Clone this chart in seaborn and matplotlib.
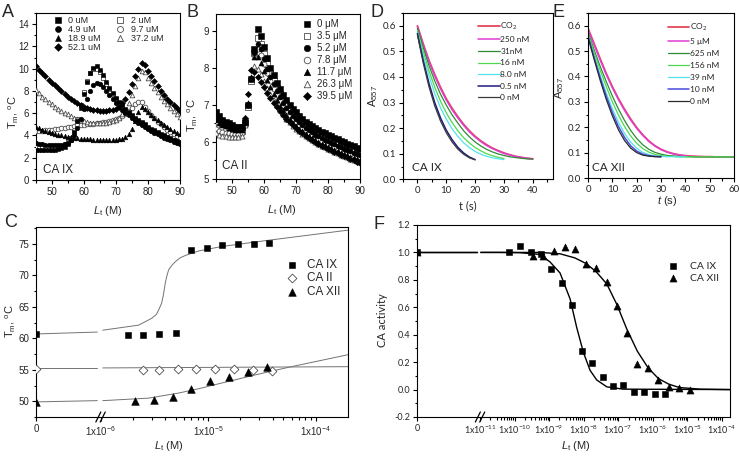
import matplotlib

matplotlib.use('Agg')
import matplotlib.pyplot as plt
from matplotlib.ticker import MultipleLocator, FixedLocator, FixedFormatter
import numpy as np
import seaborn as sns

# ---------------- panel A: CA IX melting curves (values per degree, 45..90) ----------------
temp = np.arange(45, 91)
a_0uM = [2.70, 2.70, 2.65, 2.65, 2.65, 2.65, 2.70, 2.75, 2.85, 3.00,
         3.20, 3.60, 4.30, 5.30, 6.50, 7.70, 8.80, 9.60, 10.10, 10.20,
         9.90, 9.40, 8.80, 8.30, 7.80, 7.40, 7.00, 6.70, 6.40, 6.10,
         5.85, 5.60, 5.40, 5.20, 5.00, 4.80, 4.60, 4.45, 4.30, 4.15,
         4.00, 3.85, 3.75, 3.60, 3.50, 3.40]
a_2uM = [3.00, 2.98, 2.95, 2.92, 2.90, 2.90, 2.92, 2.95, 3.05, 3.20,
         3.40, 3.80, 4.50, 5.50, 6.70, 7.90, 8.90, 9.60, 9.95, 10.00,
         9.70, 9.20, 8.65, 8.15, 7.70, 7.30, 6.90, 6.60, 6.30, 6.00,
         5.75, 5.50, 5.30, 5.10, 4.90, 4.70, 4.52, 4.37, 4.22, 4.08,
         3.95, 3.82, 3.70, 3.58, 3.47, 3.37]
a_4_9uM = [3.30, 3.25, 3.20, 3.15, 3.10, 3.10, 3.10, 3.10, 3.15, 3.20,
           3.35, 3.60, 4.00, 4.70, 5.50, 6.40, 7.30, 8.00, 8.50, 8.70,
           8.65, 8.35, 8.00, 7.60, 7.25, 6.90, 6.60, 6.30, 6.05, 5.80,
           5.55, 5.35, 5.15, 4.95, 4.75, 4.55, 4.40, 4.25, 4.10, 3.95,
           3.80, 3.65, 3.55, 3.40, 3.30, 3.20]
a_9_7uM = [4.40, 4.40, 4.40, 4.45, 4.50, 4.50, 4.55, 4.60, 4.65, 4.70,
           4.75, 4.80, 4.85, 4.90, 4.90, 4.95, 5.00, 5.00, 5.05, 5.10,
           5.15, 5.20, 5.25, 5.30, 5.40, 5.50, 5.60, 5.75, 5.95, 6.20,
           6.50, 6.80, 7.00, 7.00, 6.60, 6.20, 5.85, 5.55, 5.25, 5.00,
           4.75, 4.50, 4.30, 4.10, 3.95, 3.80]
a_18_9uM = [4.80, 4.65, 4.50, 4.40, 4.30, 4.20, 4.10, 4.05, 4.00, 3.95,
            3.90, 3.85, 3.80, 3.75, 3.70, 3.70, 3.65, 3.65, 3.60, 3.60,
            3.60, 3.60, 3.60, 3.60, 3.60, 3.60, 3.65, 3.70, 3.85, 4.10,
            4.60, 5.30, 6.10, 6.60, 6.40, 6.10, 5.80, 5.60, 5.35, 5.15,
            4.95, 4.75, 4.60, 4.40, 4.25, 4.10]
a_37_2uM = [8.10, 7.80, 7.50, 7.25, 7.00, 6.80, 6.60, 6.40, 6.20, 6.05,
            5.90, 5.75, 5.60, 5.50, 5.40, 5.30, 5.20, 5.15, 5.10, 5.10,
            5.10, 5.10, 5.15, 5.20, 5.30, 5.40, 5.60, 5.90, 6.30, 6.90,
            7.60, 8.40, 9.20, 9.80, 9.70, 9.20, 8.75, 8.30, 7.90, 7.50,
            7.10, 6.80, 6.50, 6.20, 5.95, 5.70]
a_52_1uM = [10.20, 9.90, 9.60, 9.30, 9.00, 8.75, 8.50, 8.25, 8.00, 7.75,
            7.50, 7.30, 7.10, 6.90, 6.70, 6.55, 6.45, 6.35, 6.30, 6.25,
            6.20, 6.20, 6.20, 6.25, 6.30, 6.40, 6.60, 6.90, 7.30, 7.90,
            8.60, 9.30, 10.00, 10.50, 10.30, 9.80, 9.30, 8.85, 8.40, 8.00,
            7.60, 7.30, 7.00, 6.70, 6.45, 6.20]

# ---------------- panel B: CA II melting curves ----------------
b_0 = [6.80, 6.70, 6.60, 6.55, 6.50, 6.45, 6.40, 6.40, 6.40, 6.55,
       7.00, 7.70, 8.50, 9.05, 8.85, 8.55, 8.25, 8.00, 7.80, 7.60,
       7.42, 7.27, 7.13, 7.00, 6.90, 6.80, 6.71, 6.62, 6.55, 6.49,
       6.43, 6.38, 6.33, 6.28, 6.23, 6.19, 6.15, 6.11, 6.07, 6.03,
       5.99, 5.95, 5.91, 5.88, 5.84, 5.80]
b_3_5 = [6.45, 6.40, 6.35, 6.32, 6.30, 6.30, 6.30, 6.30, 6.30, 6.50,
         6.95, 7.65, 8.40, 8.80, 8.65, 8.38, 8.10, 7.86, 7.65, 7.46,
         7.29, 7.14, 7.01, 6.89, 6.79, 6.70, 6.61, 6.53, 6.46, 6.40,
         6.34, 6.29, 6.24, 6.19, 6.15, 6.11, 6.07, 6.03, 5.99, 5.95,
         5.91, 5.87, 5.83, 5.80, 5.76, 5.73]
b_5_2 = [6.75, 6.65, 6.57, 6.50, 6.45, 6.40, 6.38, 6.36, 6.36, 6.55,
         7.00, 7.70, 8.40, 8.65, 8.50, 8.24, 7.98, 7.75, 7.55, 7.37,
         7.20, 7.05, 6.92, 6.80, 6.70, 6.61, 6.53, 6.45, 6.38, 6.32,
         6.26, 6.20, 6.15, 6.10, 6.06, 6.02, 5.98, 5.94, 5.90, 5.86,
         5.82, 5.78, 5.75, 5.71, 5.68, 5.65]
b_7_8 = [6.35, 6.30, 6.27, 6.25, 6.23, 6.22, 6.22, 6.22, 6.25, 6.50,
         7.00, 7.70, 8.35, 8.50, 8.35, 8.10, 7.85, 7.63, 7.44, 7.27,
         7.11, 6.97, 6.84, 6.73, 6.63, 6.54, 6.46, 6.38, 6.31, 6.25,
         6.19, 6.13, 6.08, 6.03, 5.99, 5.95, 5.91, 5.87, 5.83, 5.79,
         5.75, 5.71, 5.68, 5.64, 5.61, 5.58]
b_11_7 = [6.60, 6.52, 6.46, 6.42, 6.38, 6.35, 6.33, 6.32, 6.33, 6.55,
          7.05, 7.75, 8.30, 8.30, 8.12, 7.90, 7.67, 7.47, 7.29, 7.13,
          6.98, 6.85, 6.73, 6.62, 6.52, 6.44, 6.36, 6.29, 6.22, 6.16,
          6.10, 6.05, 6.00, 5.95, 5.91, 5.87, 5.83, 5.79, 5.75, 5.71,
          5.67, 5.64, 5.60, 5.57, 5.53, 5.50]
b_26_3 = [6.25, 6.20, 6.17, 6.15, 6.13, 6.12, 6.12, 6.12, 6.15, 6.45,
          7.05, 7.75, 8.05, 7.98, 7.82, 7.64, 7.45, 7.28, 7.13, 6.99,
          6.86, 6.74, 6.63, 6.53, 6.44, 6.36, 6.29, 6.22, 6.16, 6.10,
          6.05, 6.00, 5.95, 5.90, 5.86, 5.82, 5.78, 5.74, 5.70, 5.66,
          5.62, 5.59, 5.55, 5.52, 5.48, 5.45]
b_39_5 = [6.70, 6.60, 6.50, 6.45, 6.40, 6.38, 6.36, 6.35, 6.38, 6.65,
          7.30, 7.95, 7.88, 7.76, 7.62, 7.48, 7.33, 7.19, 7.06, 6.94,
          6.83, 6.72, 6.62, 6.53, 6.45, 6.37, 6.30, 6.23, 6.17, 6.11,
          6.05, 6.00, 5.95, 5.90, 5.86, 5.82, 5.78, 5.74, 5.70, 5.66,
          5.62, 5.58, 5.54, 5.50, 5.46, 5.42]

# ---------------- panel D: CA IX stopped-flow traces ----------------
t_d40 = [0, 2, 4, 6, 8, 10, 12, 14, 16, 18, 20, 22, 24, 26, 28, 30, 32, 34, 36, 38, 40]
t_d30 = [0, 2, 4, 6, 8, 10, 12, 14, 16, 18, 20, 22, 24, 26, 28, 30]
t_d20 = [0, 2, 4, 6, 8, 10, 12, 14, 16, 18, 20]
d_co2 = [0.600, 0.530, 0.465, 0.410, 0.360, 0.315, 0.278, 0.245, 0.215, 0.190, 0.168,
         0.150, 0.135, 0.122, 0.112, 0.103, 0.096, 0.090, 0.086, 0.082, 0.080]
d_250 = [0.595, 0.525, 0.460, 0.404, 0.354, 0.310, 0.272, 0.240, 0.211, 0.186, 0.165,
         0.147, 0.132, 0.120, 0.110, 0.101, 0.095, 0.089, 0.085, 0.082, 0.080]
d_31 = [0.590, 0.515, 0.445, 0.385, 0.333, 0.290, 0.252, 0.220, 0.190, 0.166, 0.146,
        0.130, 0.117, 0.107, 0.099, 0.093, 0.088, 0.085, 0.082, 0.080, 0.079]
d_16 = [0.580, 0.500, 0.425, 0.360, 0.305, 0.260, 0.222, 0.190, 0.163, 0.142, 0.124,
        0.111, 0.100, 0.092, 0.086, 0.081]
d_8 = [0.575, 0.485, 0.405, 0.335, 0.280, 0.235, 0.198, 0.168, 0.143, 0.124, 0.109,
       0.098, 0.090, 0.084, 0.080, 0.077]
d_05 = [0.570, 0.465, 0.375, 0.300, 0.240, 0.192, 0.155, 0.125, 0.103, 0.087, 0.077]
d_0 = [0.565, 0.455, 0.362, 0.287, 0.228, 0.182, 0.146, 0.118, 0.098, 0.084, 0.076]

# ---------------- panel E: CA XII stopped-flow traces ----------------
t_e60 = [0, 2.5, 5, 7.5, 10, 12.5, 15, 17.5, 20, 22.5, 25, 27.5, 30, 32.5, 35, 37.5,
         40, 42.5, 45, 47.5, 50, 52.5, 55, 57.5, 60]
t_e40 = [0, 2.5, 5, 7.5, 10, 12.5, 15, 17.5, 20, 22.5, 25, 27.5, 30, 32.5, 35, 37.5, 40]
t_e30 = [0, 2.5, 5, 7.5, 10, 12.5, 15, 17.5, 20, 22.5, 25, 27.5, 30]
e_co2 = [0.590, 0.530, 0.470, 0.412, 0.360, 0.313, 0.271, 0.233, 0.199, 0.170, 0.146, 0.127,
         0.113, 0.103, 0.096, 0.091, 0.088, 0.086, 0.085, 0.084, 0.084, 0.083, 0.083, 0.083, 0.083]
e_5um = [0.585, 0.525, 0.465, 0.408, 0.356, 0.309, 0.267, 0.229, 0.196, 0.168, 0.144, 0.126,
         0.112, 0.102, 0.095, 0.090, 0.087, 0.085, 0.084, 0.084, 0.083, 0.083, 0.083, 0.083, 0.083]
e_625 = [0.575, 0.505, 0.440, 0.380, 0.323, 0.272, 0.227, 0.188, 0.156, 0.131, 0.113, 0.101,
         0.094, 0.089, 0.087, 0.085, 0.084, 0.084, 0.083, 0.083, 0.083, 0.083, 0.083, 0.083, 0.083]
e_156 = [0.570, 0.495, 0.425, 0.360, 0.300, 0.248, 0.203, 0.166, 0.137, 0.116, 0.102, 0.093,
         0.088, 0.086, 0.085, 0.084, 0.084, 0.083, 0.083, 0.083, 0.083, 0.083, 0.083, 0.083, 0.083]
e_39 = [0.560, 0.480, 0.405, 0.335, 0.273, 0.220, 0.176, 0.142, 0.117, 0.101, 0.092, 0.087,
        0.085, 0.084, 0.084, 0.083, 0.083]
e_10 = [0.560, 0.475, 0.395, 0.322, 0.258, 0.203, 0.160, 0.127, 0.106, 0.094, 0.088, 0.085, 0.084]
e_0 = [0.555, 0.468, 0.385, 0.310, 0.245, 0.190, 0.148, 0.118, 0.100, 0.090, 0.086, 0.084, 0.083]

# ---------------- panel C: Tm vs ligand ----------------
c_ix_x = [0, 1.8e-6, 2.5e-6, 3.5e-6, 5.0e-6, 6.9e-6, 9.7e-6, 1.35e-5, 1.9e-5, 2.65e-5, 3.7e-5]
c_ix_y = [60.7, 60.5, 60.6, 60.7, 60.8, 74.1, 74.4, 74.8, 75.0, 75.0, 75.1]
c_ii_x = [0, 2.5e-6, 3.5e-6, 5.2e-6, 7.7e-6, 1.17e-5, 1.76e-5, 2.62e-5, 3.94e-5]
c_ii_y = [55.2, 54.9, 54.9, 55.1, 55.2, 55.2, 55.2, 55.0, 54.8]
c_xii_x = [0, 2.07e-6, 3.12e-6, 4.69e-6, 7.0e-6, 1.05e-5, 1.58e-5, 2.35e-5, 3.54e-5]
c_xii_y = [49.9, 50.0, 50.2, 50.6, 52.0, 53.3, 53.9, 54.6, 55.4]
# fitted curves (nan = axis break)
fit_c_ix_x = [0, 9.5e-7, np.nan, 1.05e-6, 2.26e-6, 3.0e-6, 3.3e-6, 3.47e-6, 3.7e-6, 3.85e-6,
              4.0e-6, 4.15e-6, 4.3e-6, 4.6e-6, 4.97e-6, 5.5e-6, 6.2e-6, 8.2e-6, 1.34e-5,
              3.67e-5, 2e-4]
fit_c_ix_y = [60.7, 61.0, np.nan, 61.3, 62.1, 63.2, 63.8, 64.5, 65.6, 67.0,
              68.8, 70.0, 70.9, 71.6, 72.2, 72.8, 73.2, 73.9, 74.6, 75.6, 77.2]
fit_c_ii_x = [0, 9.5e-7, np.nan, 1.05e-6, 2e-4]
fit_c_ii_y = [55.3, 55.3, np.nan, 55.3, 55.5]
fit_c_xii_x = [0, 9.5e-7, np.nan, 1.05e-6, 2.8e-6, 5.3e-6, 8.2e-6, 1.34e-5, 2.76e-5, 5.6e-5, 2e-4]
fit_c_xii_y = [49.9, 50.1, np.nan, 50.1, 50.5, 51.3, 52.0, 52.9, 54.2, 55.4, 57.4]

# ---------------- panel F: CA activity vs ligand ----------------
f_ix_x = [0, 7.1e-11, 1.44e-10, 2.95e-10, 5.9e-10, 1.12e-9, 2.33e-9, 4.55e-9, 9.2e-9, 1.8e-8,
          3.6e-8, 7.3e-8, 1.43e-7, 2.9e-7, 5.8e-7, 1.18e-6, 2.3e-6]
f_ix_y = [1.0, 1.0, 1.05, 1.0, 0.985, 0.878, 0.78, 0.615, 0.282, 0.194,
          0.092, 0.026, 0.031, -0.015, -0.018, -0.034, -0.032]
f_xii_x = [0, 3.5e-10, 6.8e-10, 1.4e-9, 2.8e-9, 5.7e-9, 1.16e-8, 2.3e-8, 4.7e-8, 9.2e-8,
           1.79e-7, 3.6e-7, 7.3e-7, 1.47e-6, 2.9e-6, 5.9e-6, 1.17e-5]
f_xii_y = [1.0, 0.975, 0.975, 1.007, 1.04, 1.024, 0.912, 0.89, 0.786, 0.61,
           0.416, 0.185, 0.155, 0.068, 0.019, 0.015, 0.0]
fit_f_ix_x = [0, 9.5e-12, np.nan, 1.05e-11, 3.8e-11, 1.44e-10, 5.5e-10, 1.07e-9, 2.08e-9, 4.07e-9,
              6.35e-9, 9.9e-9, 1.54e-8, 2.4e-8, 4.7e-8, 1.4e-7, 1.7e-4]
fit_f_ix_y = [1.0, 1.0, np.nan, 1.0, 1.0, 0.998, 0.985, 0.93, 0.85, 0.66,
              0.45, 0.27, 0.14, 0.07, 0.02, 0.003, 0.0]
fit_f_xii_x = [0, 9.5e-12, np.nan, 1.05e-11, 5.5e-10, 2.08e-9, 5.6e-9, 1.16e-8, 2.3e-8, 4.7e-8,
               9.2e-8, 1.79e-7, 3.6e-7, 7.3e-7, 1.47e-6, 2.9e-6, 5.9e-6, 2.4e-5, 1.7e-4]
fit_f_xii_y = [1.0, 1.0, np.nan, 1.0, 1.0, 0.99, 0.96, 0.92, 0.86, 0.77,
               0.62, 0.44, 0.28, 0.16, 0.08, 0.04, 0.015, 0.003, 0.0]

# ---------------------------------------------------------------------------
sns.set_style('ticks')
plt.rcParams['font.family'] = ['Liberation Sans', 'DejaVu Sans']
plt.rcParams['mathtext.fontset'] = 'custom'
plt.rcParams['mathtext.rm'] = 'Liberation Sans'
plt.rcParams['mathtext.it'] = 'Liberation Sans:italic'
plt.rcParams['mathtext.default'] = 'regular'

W, H = 740, 457
fig = plt.figure(figsize=(W / 100, H / 100), dpi=100)


def add_ax(l, t, r, b):
    return fig.add_axes([l / W, 1 - b / H, (r - l) / W, (b - t) / H])


def style(ax, fam=None, size=7):
    for s in ax.spines.values():
        s.set_color('k')
        s.set_linewidth(0.8)
    ax.tick_params(which='both', direction='out', color='k', width=0.8,
                   top=False, right=False, labelsize=size, pad=2)
    ax.tick_params(which='major', length=3)
    ax.tick_params(which='minor', length=1.8)
    if fam:
        for lab in ax.get_xticklabels() + ax.get_yticklabels():
            lab.set_fontfamily(fam)


def dots(ax, x, y, marker, filled, s, label=None):
    if filled:
        sns.scatterplot(x=x, y=y, ax=ax, marker=marker, color='k', edgecolor='k',
                        s=s, linewidth=0.4, label=label, zorder=3)
    else:
        sns.scatterplot(x=x, y=y, ax=ax, marker=marker, color='white', edgecolor='0.3',
                        s=s, linewidth=0.6, label=label, zorder=3)


def fit_line(ax, x, y, color, lw):
    x = np.asarray(x, float)
    y = np.asarray(y, float)
    cuts = np.flatnonzero(np.isnan(x))
    for part in np.split(np.arange(len(x)), cuts):
        part = part[~np.isnan(x[part])]
        if len(part) > 1:
            sns.lineplot(x=x[part], y=y[part], ax=ax, color=color, lw=lw,
                         estimator=None, sort=False, zorder=2)


def broken_log(x0, left):
    def fwd(x):
        x = np.asarray(x, dtype=float)
        safe = np.where(x > x0, x, x0)
        return np.where(x <= x0, left * x / x0, left + np.log10(safe / x0))

    def inv(p):
        p = np.asarray(p, dtype=float)
        safe = np.where(p > left, p, left)
        return np.where(p <= left, x0 * p / left, x0 * 10 ** (safe - left))
    return fwd, inv


def slashes(ax, frac, w, h):
    for off in (-2.2, 2.2):
        cx = frac + off / w
        ax.plot([cx - 2.5 / w, cx + 2.5 / w], [-5 / h, 5 / h], transform=ax.transAxes,
                color='k', lw=0.9, clip_on=False)


def panel_letter(x, y, s):
    fig.text(x / W, 1 - y / H, s, fontsize=13, va='top', ha='left')


lt_label = r'$\mathit{L}_t$ (M)'
tm_label = r'T$_m$, $^o$C'

# ---------------- A ----------------
axA = add_ax(35.7, 13, 180, 180)
a_series = [(a_2uM, 's', False, '2 uM'), (a_9_7uM, 'o', False, '9.7 uM'),
            (a_37_2uM, '^', False, '37.2 uM'), (a_0uM, 's', True, '0 uM'),
            (a_4_9uM, 'o', True, '4.9 uM'), (a_18_9uM, '^', True, '18.9 uM'),
            (a_52_1uM, 'D', True, '52.1 uM')]
for vals, mk, filled, lab in a_series:
    dots(axA, temp, vals, mk, filled, 11 if mk != 'D' else 9, lab)
axA.set_xlim(45, 90)
axA.set_ylim(0, 15)
axA.xaxis.set_major_locator(MultipleLocator(10))
axA.xaxis.set_minor_locator(MultipleLocator(5))
axA.yaxis.set_major_locator(MultipleLocator(2))
axA.yaxis.set_minor_locator(MultipleLocator(1))
style(axA)
h, l = axA.get_legend_handles_labels()
order = [l.index(n) for n in ['0 uM', '4.9 uM', '18.9 uM', '52.1 uM', '2 uM', '9.7 uM', '37.2 uM']]
axA.legend([h[i] for i in order], [l[i] for i in order], ncol=2, loc='upper left',
           bbox_to_anchor=(0.12, 0.985), frameon=False, fontsize=6.5, labelspacing=0.0,
           handlelength=1.0, handletextpad=0.7, columnspacing=1.6, borderaxespad=0,
           borderpad=0, markerscale=1.3)
axA.text(0.05, 0.06, 'CA IX', transform=axA.transAxes, fontsize=8.5, va='center')
axA.set_xlabel(lt_label, fontsize=8)
axA.set_ylabel(tm_label, fontsize=8)
axA.xaxis.set_label_coords(0.5, -0.186)
axA.xaxis.label.set_va('center')
axA.yaxis.set_label_coords(-0.157, 0.41)
axA.yaxis.label.set_va('center')

# ---------------- B ----------------
axB = add_ax(216, 14, 360, 179)
b_series = [(b_3_5, 's', False, '3.5 \u03bcM'), (b_7_8, 'o', False, '7.8 \u03bcM'),
            (b_26_3, '^', False, '26.3 \u03bcM'), (b_0, 's', True, '0 \u03bcM'),
            (b_5_2, 'o', True, '5.2 \u03bcM'), (b_11_7, '^', True, '11.7 \u03bcM'),
            (b_39_5, 'D', True, '39.5 \u03bcM')]
for vals, mk, filled, lab in b_series:
    dots(axB, temp, vals, mk, filled, 13 if mk != 'D' else 10, lab)
axB.set_xlim(45, 90)
axB.set_ylim(5, 9.45)
axB.xaxis.set_major_locator(MultipleLocator(10))
axB.xaxis.set_minor_locator(MultipleLocator(5))
axB.yaxis.set_major_locator(MultipleLocator(1))
axB.yaxis.set_minor_locator(MultipleLocator(0.5))
style(axB)
h, l = axB.get_legend_handles_labels()
names = ['0 \u03bcM', '3.5 \u03bcM', '5.2 \u03bcM', '7.8 \u03bcM', '11.7 \u03bcM',
         '26.3 \u03bcM', '39.5 \u03bcM']
order = [l.index(n) for n in names]
axB.legend([h[i] for i in order], [l[i] for i in order], loc='upper left',
           bbox_to_anchor=(0.6, 0.97), frameon=False, fontsize=7, labelspacing=0.2,
           handlelength=1.0, handletextpad=0.5, borderaxespad=0, borderpad=0,
           markerscale=1.3)
axB.text(0.04, 0.08, 'CA II', transform=axB.transAxes, fontsize=8.5, va='center')
axB.set_xlabel(lt_label, fontsize=8)
axB.set_ylabel(tm_label, fontsize=8)
axB.xaxis.set_label_coords(0.46, -0.188)
axB.xaxis.label.set_va('center')
axB.yaxis.set_label_coords(-0.167, 0.39)
axB.yaxis.label.set_va('center')

# ---------------- D ----------------
axD = add_ax(403, 13, 553, 179.3)
d_series = [(t_d40, d_co2, '#e2475a', 1.3, 'CO$_2$'), (t_d40, d_250, '#e03cd2', 1.1, '250 nM'),
            (t_d40, d_31, '#2f8a36', 0.9, '31nM'), (t_d30, d_16, '#4fd84f', 0.9, '16 nM'),
            (t_d30, d_8, '#52e2ea', 0.9, '8.0 nM'), (t_d20, d_05, '#1c1c80', 1.1, '0.5 nM'),
            (t_d20, d_0, '#3a3a3a', 0.9, '0 nM')]
for tx, vals, col, lw, lab in d_series:
    sns.lineplot(x=tx, y=vals, ax=axD, color=col, lw=lw, label=lab, estimator=None, sort=False)
axD.set_xlim(-5, 47)
axD.set_ylim(0, 0.65)
axD.xaxis.set_major_locator(MultipleLocator(10))
axD.xaxis.set_minor_locator(MultipleLocator(5))
axD.yaxis.set_major_locator(MultipleLocator(0.1))
axD.yaxis.set_minor_locator(MultipleLocator(0.05))
axD.yaxis.set_major_formatter(matplotlib.ticker.FormatStrFormatter('%.1f'))
style(axD, 'Lato')
axD.legend(loc='upper left', bbox_to_anchor=(0.5, 0.955), frameon=False,
           prop={'family': 'Lato', 'size': 6}, labelspacing=0.55, handlelength=2.6,
           handletextpad=0.1, borderaxespad=0, borderpad=0)
axD.text(0.058, 0.07, 'CA IX', transform=axD.transAxes, fontsize=8.5, va='center',
         fontfamily='Lato')
axD.set_xlabel('t (s)', fontsize=8, fontfamily='Lato')
axD.set_ylabel('A$_{557}$', fontsize=8)
axD.xaxis.set_label_coords(0.43, -0.16)
axD.xaxis.label.set_va('center')
axD.yaxis.set_label_coords(-0.2, 0.5)
axD.yaxis.label.set_va('center')

# ---------------- E ----------------
axE = add_ax(588, 13, 734, 178)
e_series = [(t_e60, e_co2, '#e2475a', 1.3, 'CO$_2$'), (t_e60, e_5um, '#e03cd2', 1.1, '5 \u03bcM'),
            (t_e60, e_625, '#2f8a36', 0.9, '625 nM'), (t_e60, e_156, '#4fd84f', 0.9, '156 nM'),
            (t_e40, e_39, '#52e2ea', 0.9, '39 nM'), (t_e30, e_10, '#4a4ade', 1.1, '10 nM'),
            (t_e30, e_0, '#2a2a2a', 0.9, '0 nM')]
for tx, vals, col, lw, lab in e_series:
    sns.lineplot(x=tx, y=vals, ax=axE, color=col, lw=lw, label=lab, estimator=None, sort=False)
axE.set_xlim(0, 60)
axE.set_ylim(0, 0.65)
axE.xaxis.set_major_locator(MultipleLocator(10))
axE.xaxis.set_minor_locator(MultipleLocator(5))
axE.yaxis.set_major_locator(MultipleLocator(0.1))
axE.yaxis.set_minor_locator(MultipleLocator(0.05))
axE.yaxis.set_major_formatter(matplotlib.ticker.FormatStrFormatter('%.1f'))
style(axE, 'Lato')
axE.legend(loc='upper left', bbox_to_anchor=(0.545, 0.945), frameon=False,
           prop={'family': 'Lato', 'size': 6}, labelspacing=0.6, handlelength=2.6,
           handletextpad=0.1, borderaxespad=0, borderpad=0)
axE.text(0.025, 0.065, 'CA XII', transform=axE.transAxes, fontsize=8.5, va='center',
         fontfamily='Lato')
axE.set_xlabel(r'$\mathit{t}$ (s)', fontsize=8)
axE.set_ylabel('A$_{557}$', fontsize=8)
axE.xaxis.set_label_coords(0.545, -0.14)
axE.xaxis.label.set_va('center')
axE.yaxis.set_label_coords(-0.2, 0.545)
axE.yaxis.label.set_va('center')

# ---------------- C ----------------
axC = add_ax(36, 227, 348, 417)
fwdC, invC = broken_log(1e-6, 0.6)
axC.set_xscale('function', functions=(fwdC, invC))
fit_line(axC, fit_c_ix_x, fit_c_ix_y, '0.45', 0.7)
fit_line(axC, fit_c_ii_x, fit_c_ii_y, '0.45', 0.7)
fit_line(axC, fit_c_xii_x, fit_c_xii_y, '0.45', 0.7)
dots(axC, c_ix_x, c_ix_y, 's', True, 22, 'CA IX')
dots(axC, c_ii_x, c_ii_y, 'D', False, 20, 'CA II')
dots(axC, c_xii_x, c_xii_y, '^', True, 30, 'CA XII')
axC.set_xlim(0, 2e-4)
axC.set_ylim(47.5, 77.7)
axC.xaxis.set_major_locator(FixedLocator([0, 1e-6, 1e-5, 1e-4]))
axC.xaxis.set_major_formatter(FixedFormatter(['0', '1x10$^{-6}$', '1x10$^{-5}$', '1x10$^{-4}$']))
axC.xaxis.set_minor_locator(FixedLocator([m * 10.0 ** e for e in (-6, -5, -4)
                                          for m in range(2, 10) if m * 10.0 ** e < 2e-4]))
axC.yaxis.set_major_locator(MultipleLocator(5))
axC.yaxis.set_minor_locator(MultipleLocator(2.5))
style(axC)
slashes(axC, 0.6 / float(fwdC(2e-4)), 312, 190)
axC.legend(loc='upper left', bbox_to_anchor=(0.8, 0.83), frameon=False, fontsize=8.5,
           labelspacing=0.1, handlelength=1.0, handletextpad=0.8, borderaxespad=0,
           borderpad=0)
axC.set_xlabel(lt_label, fontsize=8)
axC.set_ylabel(tm_label, fontsize=8)
axC.xaxis.set_label_coords(0.426, -0.153)
axC.xaxis.label.set_va('center')
axC.yaxis.set_label_coords(-0.083, 0.505)
axC.yaxis.label.set_va('center')

# ---------------- F ----------------
axF = add_ax(417, 225, 730, 417)
fwdF, invF = broken_log(1e-11, 1.826)
axF.set_xscale('function', functions=(fwdF, invF))
fit_line(axF, fit_f_ix_x, fit_f_ix_y, 'k', 1.0)
fit_line(axF, fit_f_xii_x, fit_f_xii_y, 'k', 1.0)
dots(axF, f_ix_x, f_ix_y, 's', True, 20, 'CA IX')
dots(axF, f_xii_x, f_xii_y, '^', True, 26, 'CA XII')
axF.set_xlim(0, 1.74e-4)
axF.set_ylim(-0.2, 1.2)
f_major = [0] + [10.0 ** e for e in range(-11, -3)]
axF.xaxis.set_major_locator(FixedLocator(f_major))
axF.xaxis.set_major_formatter(FixedFormatter(['0'] + ['1x10$^{%d}$' % e for e in range(-11, -3)]))
axF.xaxis.set_minor_locator(FixedLocator([m * 10.0 ** e for e in range(-11, -3)
                                          for m in range(2, 10) if m * 10.0 ** e < 1.74e-4]))
axF.yaxis.set_major_locator(MultipleLocator(0.2))
axF.yaxis.set_minor_locator(MultipleLocator(0.1))
axF.yaxis.set_major_formatter(matplotlib.ticker.FormatStrFormatter('%.1f'))
style(axF, 'Lato', size=6.5)
slashes(axF, 1.826 / float(fwdF(1.74e-4)), 313, 192)
axF.legend(loc='upper left', bbox_to_anchor=(0.8, 0.81), frameon=False,
           prop={'family': 'Lato', 'size': 7.5}, labelspacing=0.3, handlelength=1.0,
           handletextpad=1.2, borderaxespad=0, borderpad=0)
axF.set_xlabel(lt_label, fontsize=8)
axF.set_ylabel('CA activity', fontsize=8, fontfamily='Lato')
axF.xaxis.set_label_coords(0.508, -0.151)
axF.xaxis.label.set_va('center')
axF.yaxis.set_label_coords(-0.109, 0.505)
axF.yaxis.label.set_va('center')

panel_letter(2, 4, 'A')
panel_letter(187, 4, 'B')
panel_letter(371, 4, 'D')
panel_letter(553, 4, 'E')
panel_letter(4, 214, 'C')
panel_letter(374, 216, 'F')

fig.savefig('out.png', dpi=100)
